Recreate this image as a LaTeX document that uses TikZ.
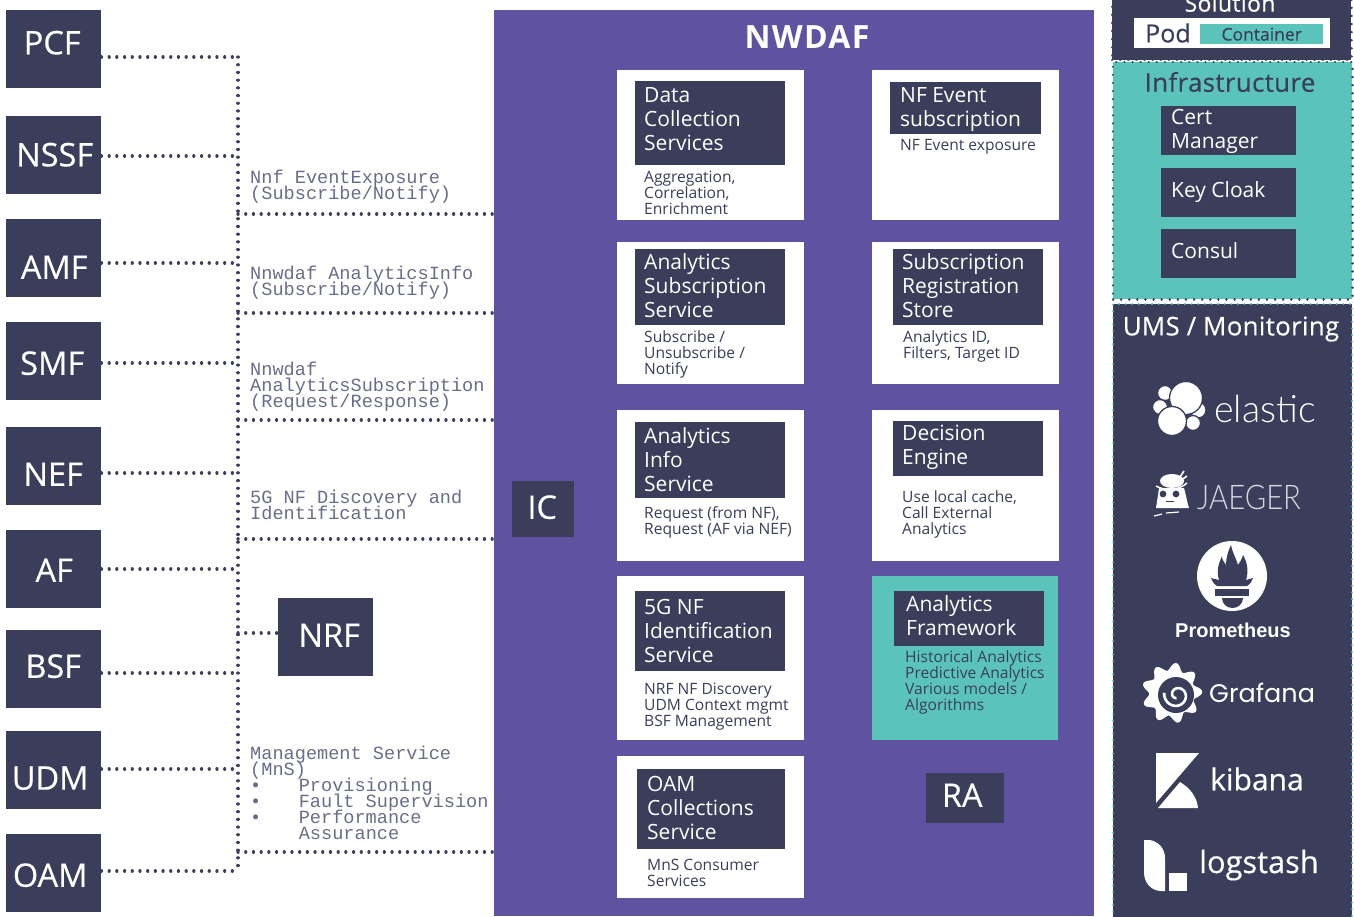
\documentclass[tikz,border=0pt]{standalone}
\usepackage{fontspec}
\setmainfont{Open Sans}
\setmonofont{Liberation Mono}
\newfontfamily\lightf{Lato Light}
\newfontfamily\jagf[FakeStretch=0.86]{Lato Light}
\newfontfamily\poppf{Poppins}
\newfontfamily\robf{Liberation Sans}
\newfontfamily\titlef[FakeBold=0.4,LetterSpace=1.5]{Open Sans}
\newfontfamily\semif[FakeBold=0.4]{Open Sans}
\newfontfamily\nwf[LetterSpace=4]{Open Sans}
\definecolor{navy}{HTML}{3A3E5A}
\definecolor{purp}{HTML}{5F52A0}
\definecolor{teal2}{HTML}{5BC4BA}
\definecolor{monoc}{HTML}{6A6D8A}
\lineskiplimit=-100pt
\normallineskiplimit=-100pt
\tikzset{
 x=1pt,y=-1pt,
 fnbox/.style={fill=navy,anchor=north west,inner sep=0pt},
 fnlab/.style={text=white,inner sep=0pt,font=\semif\fontsize{32.5}{36}\selectfont},
 dotline/.style={navy,line width=3.2pt,line cap=round,dash pattern=on 0.1pt off 7.6pt},
 subt/.style={anchor=north west,inner sep=0pt,align=left,text=navy,font=\fontsize{15.6}{16}\selectfont},
 monot/.style={anchor=north west,inner sep=0pt,align=left,text=monoc,font=\ttfamily\fontsize{18.6}{16}\selectfont},
 card/.style={fill=white,anchor=north west,inner sep=0pt},
 tcard/.style={fill=teal2,anchor=north west,inner sep=0pt},
 logot/.style={text=white,inner sep=0pt},
 blob/.style={fill=white,draw=navy,line width=1.3pt},
}
\newcommand\hdrbox[8][9]{\node[fill=navy,text=white,anchor=north west,inner sep=0pt] (#2) at (#3,#4) {\begin{minipage}[c][#6pt][t]{#5pt}\fontsize{21}{24}\selectfont\raggedright\leftskip=#1pt\relax\vspace*{#7pt}\strut #8\end{minipage}};}
% name x y w h  label dx dy (pixels, y down)
\newcommand\fnb[8]{\node[fnbox,minimum width=#4pt,minimum height=#5pt,label={[fnlab,xshift=#7pt,yshift=-#8pt]center:#6}] (#1) at (#2,#3) {};}
\newcommand\crd[6][card]{\node[#1,minimum width=#5pt,minimum height=#6pt] (#2) at (#3,#4) {};}
\begin{document}
\begin{tikzpicture}
\useasboundingbox (0,0) rectangle (1354,916);
\begin{scope}
\clip (0,0) rectangle (1354,916);
% NF boxes
\fnb{pcf}{6}{10}{95}{78}{PCF}{-1.5}{-6.5}
\fnb{nssf}{6}{116}{95}{78}{NSSF}{1}{-0.5}
\fnb{amf}{6}{219}{95}{78}{AMF}{0.5}{9}
\fnb{smf}{6}{322}{95}{78}{SMF}{-1.5}{2}
\fnb{nef}{6}{427}{95}{78}{NEF}{-0.5}{8}
\fnb{af}{6}{530}{95}{78}{AF}{0.5}{1}
\fnb{bsf}{6}{630}{95}{78}{BSF}{-0.5}{-3}
\fnb{udm}{6}{731}{95}{78}{UDM}{-3.5}{8}
\fnb{oam}{6}{834}{95}{78}{OAM}{-3.5}{2}
\fnb{nrf}{278}{598}{95}{78}{NRF}{3.5}{-2}
% NWDAF panel
\node[fill=purp,anchor=north west,inner sep=0pt,minimum width=600pt,minimum height=906pt] (nwdaf) at (494,10) {};
\node[text=white,inner sep=0pt,font=\nwf\fontsize{32}{36}\bfseries\selectfont] (nwt) at (807,37) {NWDAF};
% connectors
\coordinate (ttop) at (238,57);
\coordinate (tbot) at (238,871);
\draw[dotline] (ttop) -- (tbot);
\foreach \n/\yy in {pcf/57,nssf/156,amf/263,smf/363,nef/473,af/569,bsf/673,udm/769,oam/871}{
 \coordinate (t\n) at (238,\yy);
 \draw[dotline] (t\n -| \n.east) -- (t\n);
}
\coordinate (tnrf) at (238,633);
\draw[dotline] (tnrf) -- (tnrf -| nrf.west);
\foreach \i/\yy in {1/214,2/313,3/420,4/539,5/852}{
 \coordinate (r\i) at (238,\yy);
 \draw[dotline] (r\i) -- (r\i -| nwdaf.west);
}
% mono labels
\node[monot] (l1) at (250,170) {Nnf EventExposure\\(Subscribe/Notify)};
\node[monot] (l2) at (250,266) {Nnwdaf AnalyticsInfo\\(Subscribe/Notify)};
\node[monot] (l3) at (250,362) {Nnwdaf\\AnalyticsSubscription\\(Request/Response)};
\node[monot] (l4) at (250,490) {5G NF Discovery and\\Identification};
\node[monot] (l5) at (250,746) {Management Service\\(MnS)\\\makebox[48.6pt][l]{•}Provisioning\\\makebox[48.6pt][l]{•}Fault Supervision\\\makebox[48.6pt][l]{•}Performance\\\makebox[48.6pt][l]{}Assurance};
% IC, RA
\fnb{ic}{512}{481}{62}{56}{IC}{-1}{-2}
\fnb{ra}{926}{773}{78}{50}{RA}{-3}{-3}
% cards
\crd{c1}{617}{70}{187}{150}
\crd{c2}{872}{70}{187}{150}
\crd{c3}{617}{242}{187}{142}
\crd{c4}{872}{242}{187}{142}
\crd{c5}{617}{410}{187}{151}
\crd{c6}{872}{410}{187}{151}
\crd{c7}{617}{576}{187}{164}
\crd[tcard]{c8}{872}{576}{186}{164}
\crd{c9}{617}{756}{187}{142}
\hdrbox{h1}{635}{81}{150}{84}{4}{Data\\Collection\\Services}
\hdrbox[10]{h2}{890}{82}{151}{52}{3}{NF Event\\subscription}
\hdrbox{h3}{635}{249}{150}{76}{3}{Analytics\\Subscription\\Service}
\hdrbox{h4}{893}{249}{150}{76}{3}{Subscription\\Registration\\Store}
\hdrbox{h5}{635}{422}{150}{76}{4}{Analytics\\Info\\Service}
\hdrbox{h6}{893}{421}{150}{55}{2}{Decision\\Engine}
\hdrbox{h7}{635}{591}{150}{80}{6}{5G NF\\Identification\\Service}
\hdrbox[12]{h8}{894}{591}{150}{55}{3}{Analytics\\Framework}
\hdrbox[10]{h9}{637}{769}{148}{80}{5}{OAM\\Collections\\Service}
\node[subt] (s1) at (644,171) {Aggregation,\\Correlation,\\Enrichment};
\node[subt] (s2) at (900,139) {NF Event exposure};
\node[subt] (s3) at (644,330) {Subscribe /\\Unsubscribe /\\Notify};
\node[subt] (s4) at (903,330) {Analytics ID,\\Filters, Target ID};
\node[subt] (s5) at (644,506) {Request (from NF),\\Request (AF via NEF)};
\node[subt] (s6) at (902,490) {Use local cache,\\Call External\\Analytics};
\node[subt] (s7) at (644,683) {NRF NF Discovery\\UDM Context mgmt\\BSF Management};
\node[subt] (s8) at (905,650) {Historical Analytics\\Predictive Analytics\\Various models /\\Algorithms};
\node[subt] (s9) at (647,859) {MnS Consumer\\Services};
% Solution panel
\node[fill=navy,draw=navy,line width=2.4pt,dash pattern=on 0.1pt off 8pt,line cap=round,anchor=north west,inner sep=0pt,minimum width=239.4pt,minimum height=78.9pt] (sol) at (1110.8,-20) {};
\node[text=white,inner sep=0pt,font=\titlef\fontsize{23}{24}\selectfont] (solt) at (1230,3) {Solution};
\node[fill=white,anchor=north west,inner sep=0pt,minimum width=196pt,minimum height=30pt] (pod) at (1134,18) {};
\node[text=navy,anchor=west,inner sep=0pt,font=\semif\fontsize{25}{26}\selectfont] (podt) at (1145,33) {Pod};
\node[fill=teal2,text=navy,anchor=north west,inner sep=0pt,minimum width=123pt,minimum height=20pt,font=\semif\fontsize{17.5}{18}\selectfont] (cont) at (1200,24) {Container};
% Infrastructure
\node[fill=teal2,draw=navy,line width=2.4pt,dash pattern=on 0.1pt off 8pt,line cap=round,anchor=north west,inner sep=0pt,minimum width=239.4pt,minimum height=237.4pt] (inf) at (1111.8,60.8) {};
\node[text=navy,inner sep=0pt,font=\titlef\fontsize{25.8}{28}\selectfont] (inft) at (1230,82) {Infrastructure};
\hdrbox[10]{i1}{1161}{106}{135}{49}{1}{Cert\\Manager}
\hdrbox[10]{i2}{1161}{168}{135}{49}{12}{Key Cloak}
\hdrbox[10]{i3}{1161}{229}{135}{49}{12}{Consul}
% UMS
\node[fill=navy,draw=teal2,line width=2pt,dash pattern=on 0.1pt off 6.5pt,line cap=round,anchor=north west,inner sep=0pt,minimum width=239pt,minimum height=650pt] (ums) at (1112,303) {};
\node[text=white,inner sep=0pt,font=\titlef\fontsize{25.7}{28}\selectfont] (umst) at (1231,329) {UMS / Monitoring};
% elastic logo
\path[blob] (1165,393) circle (7.5);
\path[blob] (1160,407) circle (7.5);
\path[blob] (1198,410) circle (8);
\path[blob] (1193,423) circle (7.5);
\path[blob] (1186,398) circle (16.5);
\path[blob] (1172,421) circle (14.5);
\node[logot,anchor=west,font=\lightf\fontsize{37.5}{40}\selectfont] (elt) at (1214,409) {elastic};
% jaeger logo
\fill[white] (1159,488) -- (1184,488) .. controls (1186,495) and (1187,502) .. (1189,508) -- (1156,508) .. controls (1157,502) and (1158,495) .. (1159,488) -- cycle;
\fill[white] (1172,481) ellipse (12 and 7);
\draw[white,line width=1.5pt] (1156,486) .. controls (1165,491) and (1178,491) .. (1187,483);
\draw[white,line width=1.6pt] (1178,480) -- (1184,471);
\draw[white,line width=1.6pt] (1180,481) -- (1187,476);
\fill[navy] (1163,494) circle (3.4);
\fill[navy] (1176,494) circle (3.4);
\draw[navy,line width=1pt] (1166,501) -- (1174,501);
\draw[white,line width=1.2pt] (1154,516) -- (1162,514);
\draw[white,line width=1.2pt] (1166,513) -- (1179,512);
\node[text=white!80!navy,inner sep=0pt,anchor=west,font=\jagf\fontsize{34}{36}\selectfont] (jat) at (1197,497) {JAEGER};
% prometheus logo
\fill[white] (1232,576) circle (35);
\fill[navy] (1211,578) -- (1219,580) .. controls (1216,570) and (1219,563) .. (1222,556)
 .. controls (1222,560) and (1224,562) .. (1226,565) .. controls (1226,558) and (1228,551) .. (1231,545)
 .. controls (1232,552) and (1236,558) .. (1238,565) .. controls (1240,562) and (1242,559) .. (1243,555)
 .. controls (1247,562) and (1249,570) .. (1246,580) -- (1253,578) .. controls (1251,583) and (1249,585) .. (1247,586) -- (1217,586) .. controls (1215,585) and (1213,583) .. (1211,578) -- cycle;
\fill[navy] (1215,588.5) rectangle (1249,596);
\fill[navy] (1222,598) -- (1243,598) .. controls (1243,604) and (1238,608) .. (1232.5,608) .. controls (1227,608) and (1222,604) .. (1222,598) -- cycle;
\node[logot,font=\robf\bfseries\fontsize{20}{22}\selectfont] (prt) at (1233,630) {Prometheus};
% grafana logo
\fill[white] plot[domain=0:356,samples=90,smooth cycle] ({1172+(26.5+3.8*cos(9*\x+20))*cos(\x)},{693+(26.5+3.8*cos(9*\x+20))*sin(\x)});
\fill[navy] (1176,695) circle (18);
\draw[white,line width=2.6pt] plot[domain=0:450,samples=50,smooth] ({1177+(3+\x/45)*cos(\x+100)},{695+(3+\x/45)*sin(\x+100)});
\node[logot,anchor=west,font=\poppf\fontsize{25.5}{30}\selectfont] (grt) at (1209,693) {Grafana};
% kibana logo
\fill[white] (1156,753) -- (1199,753) -- (1156,803) -- cycle;
\fill[white] (1158,808) -- (1180,782) .. controls (1190,788) and (1197,797) .. (1198,808) -- cycle;
\node[logot,anchor=west,font=\semif\fontsize{30}{34}\selectfont] (kit) at (1210,779) {kibana};
% logstash logo
\fill[white] (1144,840) -- (1150,840) .. controls (1160,842) and (1165,850) .. (1165,858) -- (1165,891) -- (1160,891) .. controls (1150,890) and (1144,882) .. (1144,872) -- cycle;
\fill[white] (1169,873) rectangle (1187,891);
\node[logot,anchor=west,font=\semif\fontsize{30.8}{34}\selectfont] (lot) at (1199,865) {logstash};
\end{scope}
\end{tikzpicture}
\end{document}
